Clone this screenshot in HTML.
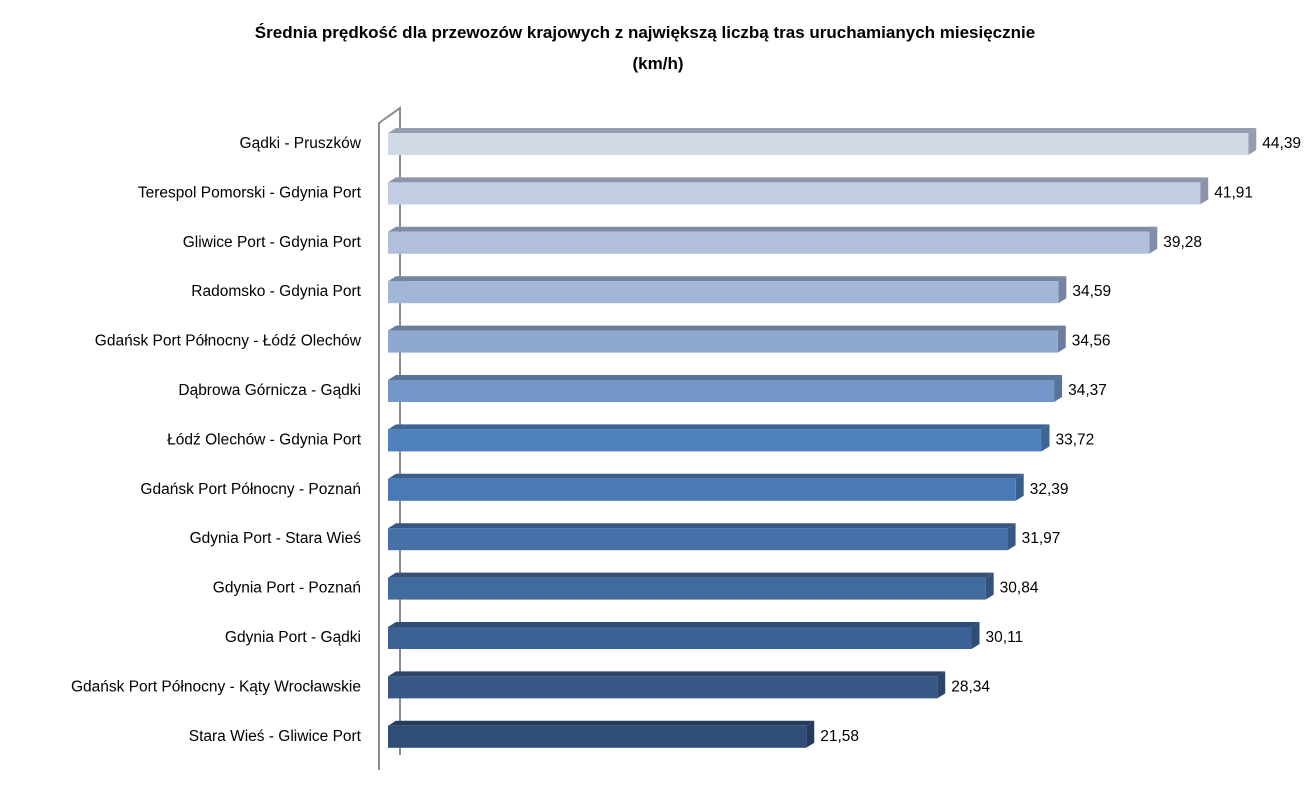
<!DOCTYPE html>
<html><head><meta charset="utf-8"><style>
body{margin:0;background:#fff;}
svg text{font-family:"Liberation Sans",sans-serif;}
</style></head><body>
<svg width="1316" height="794" xmlns="http://www.w3.org/2000/svg">
<text x="645" y="38" text-anchor="middle" font-size="17" font-weight="bold">Średnia prędkość dla przewozów krajowych z największą liczbą tras uruchamianych  miesięcznie</text>
<text x="658" y="69" text-anchor="middle" font-size="17" font-weight="bold">(km/h)</text>
<g stroke="#8c8c8c" stroke-width="2" fill="none">
<polyline points="379,770 379,123 400,108 400,755"/>
</g>
<g id="bars"></g>
</svg>
<script>
const categories=["Gądki - Pruszków","Terespol Pomorski - Gdynia Port","Gliwice Port - Gdynia Port","Radomsko - Gdynia Port","Gdańsk Port Północny - Łódź Olechów","Dąbrowa Górnicza -  Gądki","Łódź Olechów - Gdynia Port","Gdańsk Port Północny - Poznań ","Gdynia Port - Stara Wieś","Gdynia Port - Poznań ","Gdynia Port - Gądki","Gdańsk Port Północny - Kąty Wrocławskie","Stara Wieś - Gliwice Port"];
const values=[44.39,41.91,39.28,34.59,34.56,34.37,33.72,32.39,31.97,30.84,30.11,28.34,21.58];
const valueLabels=["44,39","41,91","39,28","34,59","34,56","34,37","33,72","32,39","31,97","30,84","30,11","28,34","21,58"];
const colors=["#d1d9e7","#c3cde3","#b0c0dc","#a2b6d8","#8ea8d0","#7596c8","#4f81bd","#4a7ab5","#4671a8","#416a9e","#3c6194","#385886","#2f4d76"];
const tops=["#959eae","#8a95aa","#7f8da6","#7584a0","#6a7d9e","#5a7398","#3f6491","#3b5f8d","#375883","#33527a","#2f4c72","#2c4568","#233b5c"];
const x0=388,xs=19.38,y0=133,step=49.4,h=22,dx=8,dy=5;
const X=v=>x0+v*xs, Y=i=>y0+i*step;
const g=document.getElementById('bars');const NS="http://www.w3.org/2000/svg";
function mk(t,a){const e=document.createElementNS(NS,t);for(const k in a)e.setAttribute(k,a[k]);g.appendChild(e);return e;}
values.forEach((v,i)=>{
const y=Y(i),xe=X(v);
const top=mk('polygon',{points:`${x0},${y} ${x0+dx},${y-dy} ${xe+dx},${y-dy} ${xe},${y}`,fill:tops[i]});


const side=mk('polygon',{points:`${xe},${y} ${xe+dx},${y-dy} ${xe+dx},${y+h-dy} ${xe},${y+h}`,fill:tops[i]});


const r=mk('rect',{x:x0,y:y,width:xe-x0,height:h,fill:colors[i]});


const t=mk('text',{x:xe+dx+6,y:y+h/2+4,'font-size':'15.5',fill:'#000'});t.textContent=valueLabels[i];


const c=mk('text',{x:361,y:y+h/2+4,'font-size':'15.5','text-anchor':'end',fill:'#000'});c.textContent=categories[i];


});
</script>
</body></html>
